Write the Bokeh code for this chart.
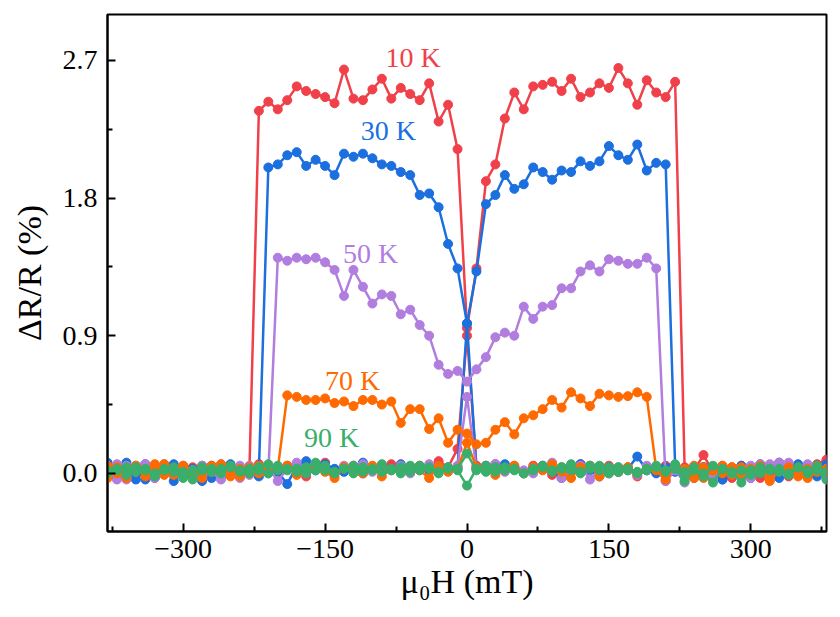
from bokeh.plotting import figure
from bokeh.models import FixedTicker, CustomJSTickFormatter, Label, ColumnDataSource
from bokeh.embed import file_html
from bokeh.resources import INLINE

# measurement grid (mT), 10 mT steps
field = list(range(-380, 381, 10))

# ---------------- 10 K ----------------
red_a_left = [0.03, 0.05, -0.02, 0.04, 0.01, -0.03, 0.05, 0.02, -0.01, 0.04, 0.00, 0.03, -0.02, 0.05, 0.01, 0.02]
red_a_plateau = [2.37, 2.43, 2.38, 2.44, 2.53, 2.50, 2.48, 2.46, 2.42, 2.64, 2.45, 2.44, 2.51, 2.58, 2.45,
                 2.52, 2.48, 2.44, 2.55, 2.30, 2.41, 2.12, 0.95, 1.34, 1.91, 2.02, 2.32, 2.49, 2.38, 2.53,
                 2.54, 2.56, 2.50, 2.58, 2.46, 2.49, 2.55, 2.52, 2.65, 2.55, 2.41, 2.57, 2.49, 2.46, 2.56]
red_a_right = [0.04, 0.02, 0.12, 0.01, -0.02, 0.04, 0.00, 0.03, -0.03, 0.05, 0.01, 0.02, -0.01, 0.04, 0.06, 0.09]
red_b = [0.06, 0.02, 0.04, -0.01, 0.05, 0.03, 0.00, 0.04, 0.02, -0.02,
         0.03, 0.05, 0.01, 0.04, -0.01, 0.02, 0.06, 0.03, 0.00, 0.05,
         0.02, -0.02, 0.04, 0.07, 0.01, 0.03, 0.05, 0.00, 0.02, 0.04,
         0.06, 0.03, 0.01, 0.05, 0.02, 0.08, 0.04, 0.16, 0.90, 0.05,
         0.03, 0.06, 0.02, 0.04, 0.01, 0.05, 0.03, -0.01, 0.04, 0.02,
         0.06, 0.03, 0.00, 0.05, 0.02, 0.04, -0.02, 0.03, 0.01, 0.05,
         0.02, 0.00, 0.03, -0.01, 0.04, 0.02, -0.03, 0.05, 0.01, 0.03,
         0.00, 0.04, -0.02, 0.02, 0.05, 0.01, 0.08]

# ---------------- 30 K ----------------
blue_a_left = [0.06, -0.03, 0.07, 0.02, -0.04, 0.05, 0.01, 0.06, -0.02, 0.03, -0.05, 0.04, 0.00, 0.05, -0.02, 0.03, 0.01]
blue_a_plateau = [2.00, 2.02, 2.08, 2.10, 2.01, 2.05, 2.01, 1.95, 2.09, 2.07, 2.09, 2.06, 2.02, 2.01, 1.97,
                  1.95, 1.82, 1.83, 1.74, 1.50, 1.34, 0.98, 1.32, 1.76, 1.82, 1.95, 1.86, 1.89, 2.00, 1.97,
                  1.92, 1.98, 1.97, 2.04, 2.01, 2.04, 2.14, 2.08, 2.05, 2.15, 1.98, 2.03, 2.02]
blue_a_right = [0.05, 0.02, -0.03, 0.04, 0.00, -0.04, 0.03, 0.01, -0.02, 0.05, 0.02, -0.03, 0.04, 0.06, 0.01, -0.02, 0.05]
blue_b = [0.07, 0.03, 0.05, -0.04, 0.06, 0.02, 0.04, -0.05, 0.03, 0.01,
          0.05, -0.03, 0.02, 0.06, 0.00, 0.04, -0.02, 0.03, 0.01, -0.07,
          0.05, 0.08, 0.02, 0.06, 0.03, 0.01, 0.04, 0.07, 0.02, 0.05,
          0.03, 0.06, 0.01, 0.04, 0.02, 0.05, 0.03, 0.04, 0.98, 0.03,
          0.05, 0.02, 0.06, 0.04, 0.01, 0.03, 0.05, 0.02, -0.03, 0.04,
          0.06, 0.02, -0.02, 0.04, 0.01, 0.03, 0.11, 0.02, 0.00, 0.04,
          0.01, 0.03, -0.02, 0.04, 0.00, -0.04, 0.02, 0.05, -0.03, 0.06,
          0.03, 0.07, 0.01, 0.05, -0.02, 0.04, 0.06]

# ---------------- 50 K ----------------
purple_a_left = [0.01, 0.06, -0.04, 0.05, 0.02, -0.03, 0.06, 0.00, 0.04, -0.02, 0.05, 0.01, -0.04, 0.03, 0.05, -0.01, 0.03, 0.00]
purple_a_plateau = [1.41, 1.39, 1.41, 1.40, 1.41, 1.38, 1.33, 1.16, 1.33, 1.22, 1.11, 1.17, 1.16, 1.04, 1.07,
                    0.97, 0.90, 0.71, 0.65, 0.67, 0.60, 0.68, 0.76, 0.89, 0.92, 0.90, 1.09, 1.01, 1.09, 1.10,
                    1.21, 1.21, 1.32, 1.36, 1.32, 1.40, 1.39, 1.37, 1.37, 1.41, 1.34]
purple_a_right = [-0.05, 0.02, -0.02, 0.04, 0.01, -0.04, 0.03, 0.00, -0.03, 0.05, 0.02, 0.06, 0.03, 0.07, 0.01, 0.05, 0.02, -0.04]
purple_b = [0.03, -0.04, 0.05, 0.01, 0.06, -0.02, 0.04, 0.00, 0.05, 0.02,
            -0.01, 0.04, 0.06, 0.01, -0.03, 0.05, 0.02, 0.04, -0.05, 0.03,
            0.07, 0.00, 0.04, 0.02, -0.01, 0.05, 0.03, 0.06, 0.01, 0.04,
            0.02, 0.05, 0.00, 0.03, 0.06, 0.02, 0.04, 0.05, 0.50, 0.03,
            0.04, 0.06, 0.01, 0.05, 0.02, 0.00, 0.04, 0.07, -0.03, 0.02,
            0.05, -0.04, 0.03, 0.00, 0.04, 0.02, -0.01, 0.05, 0.03, -0.05,
            0.02, -0.06, 0.03, 0.00, -0.02, 0.05, 0.01, 0.03, -0.03, 0.06,
            0.02, 0.07, 0.04, -0.01, 0.06, 0.03, -0.02]

# ---------------- 70 K ----------------
orange_a_left = [-0.03, 0.04, 0.00, 0.05, -0.02, 0.03, 0.06, -0.01, 0.04, 0.02, -0.03, 0.05, 0.01, 0.03, -0.02, 0.04, 0.00, 0.02, 0.03]
orange_a_plateau = [0.51, 0.50, 0.48, 0.48, 0.49, 0.46, 0.47, 0.44, 0.48, 0.48, 0.45, 0.47, 0.33, 0.42, 0.42,
                    0.29, 0.36, 0.20, 0.285, 0.26, 0.19, 0.20, 0.285, 0.335, 0.255, 0.36, 0.38, 0.42, 0.48, 0.43,
                    0.53, 0.49, 0.44, 0.52, 0.51, 0.50, 0.505, 0.53, 0.50]
orange_a_right = [0.03, -0.02, 0.04, 0.01, 0.05, -0.03, 0.02, 0.00, 0.04, -0.01, 0.03, 0.05, -0.04, 0.02, 0.00, 0.04, -0.03, 0.01, 0.03]
orange_b = [0.05, 0.00, -0.03, 0.04, 0.02, 0.06, -0.01, 0.03, 0.05, -0.02,
            0.04, 0.01, 0.06, -0.02, 0.03, 0.00, 0.05, 0.02, 0.03, 0.05,
            -0.01, 0.03, 0.05, 0.01, -0.03, 0.04, 0.02, 0.00, 0.05, -0.02,
            0.03, 0.01, 0.04, 0.02, -0.03, 0.05, 0.01, 0.03, 0.20, 0.04,
            0.02, -0.01, 0.03, 0.05, 0.00, 0.04, 0.02, 0.06, 0.01, -0.03,
            0.04, 0.05, -0.02, 0.03, 0.01, 0.04, 0.00, 0.03, 0.02, -0.04,
            0.05, 0.03, -0.03, 0.04, 0.02, 0.05, -0.01, 0.04, 0.00, 0.03,
            -0.05, 0.02, 0.04, -0.02, 0.03, 0.05, 0.01]

# ---------------- 90 K ----------------
green_a = [0.02, 0.03, -0.01, 0.04, 0.02, 0.00, 0.03, 0.01, -0.03, 0.02,
           0.04, 0.01, 0.03, 0.05, 0.02, 0.00, 0.04, 0.06, 0.02, 0.03,
           0.01, 0.04, 0.07, 0.02, 0.00, 0.03, 0.05, 0.01, 0.03, 0.06,
           0.02, 0.04, 0.01, 0.05, 0.03, 0.00, 0.04, 0.03, 0.13, 0.02,
           0.05, 0.01, 0.04, 0.02, 0.00, 0.03, 0.05, 0.02, 0.04, 0.06,
           0.01, 0.03, 0.05, 0.00, 0.04, 0.02, 0.01, 0.03, 0.05, 0.02,
           0.06, 0.01, 0.04, -0.02, 0.05, 0.03, 0.00, 0.02, -0.01, 0.04,
           0.02, 0.03, 0.00, 0.04, 0.02, 0.05, 0.01]
green_b = [0.00, 0.02, 0.04, 0.01, 0.03, -0.02, 0.02, 0.04, 0.01, -0.04,
           0.02, 0.03, 0.00, 0.04, 0.01, 0.03, 0.02, 0.00, 0.05, 0.02,
           0.03, 0.00, 0.02, 0.05, 0.01, 0.03, 0.00, 0.04, 0.02, 0.01,
           0.03, 0.00, 0.05, 0.02, 0.04, 0.01, 0.03, 0.02, -0.08, 0.03,
           0.01, 0.04, 0.02, 0.03, 0.00, 0.02, 0.04, 0.01, 0.03, 0.02,
           0.00, 0.05, 0.02, 0.04, 0.01, 0.03, 0.00, 0.02, 0.04, 0.01,
           0.03, -0.05, 0.02, 0.00, -0.06, 0.03, 0.01, -0.06, 0.02, 0.00,
           0.03, 0.01, -0.01, 0.04, 0.00, 0.02, -0.04]

temps = ["10 K", "30 K", "50 K", "70 K", "90 K"]
colors = ["#f0414a", "#1b6fdf", "#b17ddf", "#ff6a00", "#3aae6b"]
label_x = [-57, -83, -102, -121, -143]
label_y = [2.72, 2.24, 1.44, 0.61, 0.235]

traces = [
    (red_a_left + red_a_plateau + red_a_right, red_b),
    (blue_a_left + blue_a_plateau + blue_a_right, blue_b),
    (purple_a_left + purple_a_plateau + purple_a_right, purple_b),
    (orange_a_left + orange_a_plateau + orange_a_right, orange_b),
    (green_a, green_b),
]

FONT = "Liberation Serif"

p = figure(width=840, height=617, x_range=(-380, 380), y_range=(-0.38, 3.0),
           output_backend="svg", toolbar_location=None,
           min_border_left=107, min_border_right=14, min_border_top=14, min_border_bottom=86)
p.background_fill_color = "white"
p.border_fill_color = "white"
p.grid.visible = False
p.outline_line_color = "black"
p.outline_line_width = 2
p.outline_line_alpha = 1

for (ya, yb), col in zip(traces, colors):
    for ys in (yb, ya):
        assert len(ys) == len(field)
        src = ColumnDataSource(dict(x=field, y=ys))
        p.line("x", "y", source=src, line_color=col, line_width=2.5)
        p.scatter("x", "y", source=src, size=9, fill_color=col, line_color=col)

for t, col, lx, ly in zip(temps, colors, label_x, label_y):
    p.add_layout(Label(x=lx, y=ly, text=t, text_color=col, text_font=FONT,
                       text_font_size="28px", text_align="center", text_baseline="middle"))

p.xaxis.ticker = FixedTicker(ticks=[-300, -150, 0, 150, 300], minor_ticks=[-375, -225, -75, 75, 225, 375])
p.yaxis.ticker = FixedTicker(ticks=[0.0, 0.9, 1.8, 2.7], minor_ticks=[0.45, 1.35, 2.25])
p.xaxis.formatter = CustomJSTickFormatter(code="return tick < 0 ? '\u2212' + Math.abs(tick) : tick.toString();")
p.yaxis.formatter = CustomJSTickFormatter(code="return tick.toFixed(1);")
p.xaxis.axis_label = "μ₀H (mT)"
p.yaxis.axis_label = "ΔR/R (%)"

for ax in (p.xaxis[0], p.yaxis[0]):
    ax.axis_line_width = 2
    ax.axis_line_color = "black"
    ax.major_tick_in = 8
    ax.major_tick_out = 0
    ax.minor_tick_in = 5
    ax.minor_tick_out = 0
    ax.major_tick_line_width = 2
    ax.minor_tick_line_width = 2
    ax.major_label_text_font = FONT
    ax.major_label_text_font_size = "28px"
    ax.major_label_text_color = "black"
    ax.axis_label_text_font = FONT
    ax.axis_label_text_font_size = "34px"
    ax.axis_label_text_font_style = "normal"
    ax.axis_label_text_color = "black"

p.xaxis.major_label_standoff = 8
p.yaxis.major_label_standoff = 10
p.xaxis.axis_label_standoff = 2
p.yaxis.axis_label_standoff = 12

open("out.html", "w").write(file_html(p, INLINE))
